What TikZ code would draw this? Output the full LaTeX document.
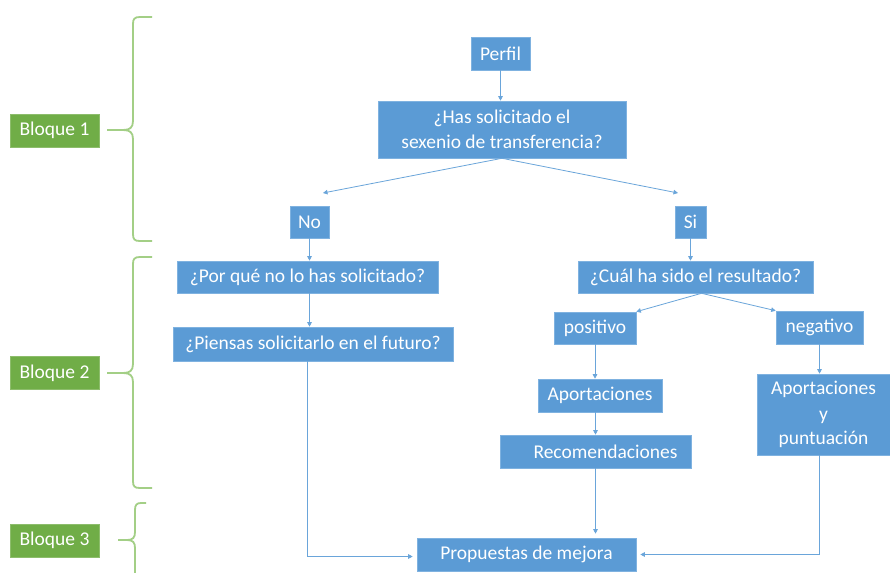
\documentclass[tikz,border=0pt]{standalone}
\usepackage{fontspec}
\setmainfont{Carlito}
\usetikzlibrary{arrows.meta}
\definecolor{boxblue}{HTML}{5B9BD5}
\definecolor{boxedge}{HTML}{7FB2E0}
\definecolor{blockgreen}{HTML}{70AD47}
\definecolor{bracegreen}{HTML}{A3CF86}
\definecolor{linkblue}{HTML}{6AA5DA}
\tikzset{
  bx/.style={fill=boxblue, draw=boxedge, line width=0.6pt, text=white, inner sep=0pt, align=center,
    font=\fontsize{19.5}{25}\selectfont},
  blk/.style={fill=blockgreen, draw=blockgreen!80!white, line width=0.6pt, text=white, inner sep=0pt,
    minimum width=89pt, minimum height=33pt, font=\fontsize{19.5}{25}\selectfont},
  link/.style={draw=linkblue, line width=0.8pt, -{Triangle[length=4.5pt,width=4.5pt]}},
  brc/.style={draw=bracegreen, line width=1.8pt, line join=round}
}
\begin{document}
\begin{tikzpicture}[x=1pt,y=-1pt]
\useasboundingbox[fill=white] (0,0) rectangle (890,572);
\clip (0,0) rectangle (890,572);
% flowchart boxes
\node[bx, minimum width=59pt, minimum height=33pt]  (perfil) at (500.5,53.5) {Perfil};
\node[bx, minimum width=248pt, minimum height=57pt] (has) at (502,129.5) {¿Has solicitado el\\sexenio de transferencia?};
\node[bx, minimum width=39pt, minimum height=32pt]  (no) at (309.5,222) {No};
\node[bx, minimum width=31pt, minimum height=32pt]  (si) at (690.5,222) {Si};
\node[bx, minimum width=261pt, minimum height=32pt] (porque) at (307.5,277) {¿Por qué no lo has solicitado?};
\node[bx, minimum width=280pt, minimum height=34pt] (piensas) at (313,344) {¿Piensas solicitarlo en el futuro?};
\node[bx, minimum width=235pt, minimum height=32pt] (cual) at (695.5,277) {¿Cuál ha sido el resultado?};
\node[bx, minimum width=82pt, minimum height=32pt]  (pos) at (595,328) {positivo};
\node[bx, minimum width=87pt, minimum height=33pt]  (neg) at (819.5,327.5) {negativo};
\node[bx, minimum width=124pt, minimum height=33pt] (aport) at (600,395.5) {Aportaciones};
\node[bx, minimum width=191pt, minimum height=33pt] (recom) at (595.5,451.5) {\hspace*{20pt}Recomendaciones};
\node[bx, minimum width=133pt, minimum height=81pt] (aportp) at (823.5,414.5) {Aportaciones\\[1pt]y\\[-1pt]puntuación};
\node[bx, minimum width=219pt, minimum height=33pt] (prop) at (526.5,554.5) {Propuestas de mejora};
% block labels
\node[blk] (b1) at (54.5,130.5) {Bloque 1};
\node[blk] (b2) at (54.5,373) {Bloque 2};
\node[blk] (b3) at (54.5,540.5) {Bloque 3};
% braces
\draw[brc] (152,17) -- (140,17) .. controls (134.5,17) and (133,19) .. (133,24) -- (133,121)
  .. controls (133,127.5) and (130,130) .. (123,130) -- (107,130);
\draw[brc] (123,130) .. controls (130,130) and (133,132.5) .. (133,139) -- (133,234)
  .. controls (133,239.5) and (134.5,241) .. (140,241) -- (152,241);
\draw[brc] (152,257) -- (140,257) .. controls (134.5,257) and (133,259) .. (133,264) -- (133,364)
  .. controls (133,370.5) and (130,373) .. (123,373) -- (107,373);
\draw[brc] (123,373) .. controls (130,373) and (133,375.5) .. (133,382) -- (133,481)
  .. controls (133,486.5) and (134.5,488) .. (140,488) -- (152,488);
\draw[brc] (146,503) -- (141,503) .. controls (136.5,503) and (135,505) .. (135,510) -- (135,532)
  .. controls (135,537.5) and (133,540) .. (127,540) -- (118,540);
\draw[brc] (127,540) .. controls (133,540) and (135,542.5) .. (135,548) -- (135,575);
% connectors
\coordinate (noend) at (323,193);
\coordinate (siend) at (678,193);
\draw[link] (perfil.south) -- (perfil.south |- has.north);
\draw[link] (has.south) -- (noend);
\draw[link] (has.south) -- (siend);
\draw[link] (no.south) -- (no.south |- porque.north);
\draw[link] (porque.south -| no.south) -- (no.south |- piensas.north);
\draw[link, shorten >=4pt] (piensas.south -| porque.south) |- ([yshift=-2pt]prop.west);
\draw[link] (si.south) -- (si.south |- cual.north);
\draw[link] ([xshift=6pt]cual.south) -- (pos.north east);
\draw[link] ([xshift=6pt]cual.south) -- (neg.north west);
\draw[link] (pos.south) -- (pos.south |- aport.north);
\draw[link] (aport.south -| recom.north) -- (recom.north);
\draw[link, shorten >=4pt] (recom.south) -- (recom.south |- prop.north);
\draw[link] (neg.south) -- (neg.south |- aportp.north);
\draw[link, shorten >=4pt] (aportp.south -| neg.south) |- (prop.east);
\end{tikzpicture}
\end{document}
